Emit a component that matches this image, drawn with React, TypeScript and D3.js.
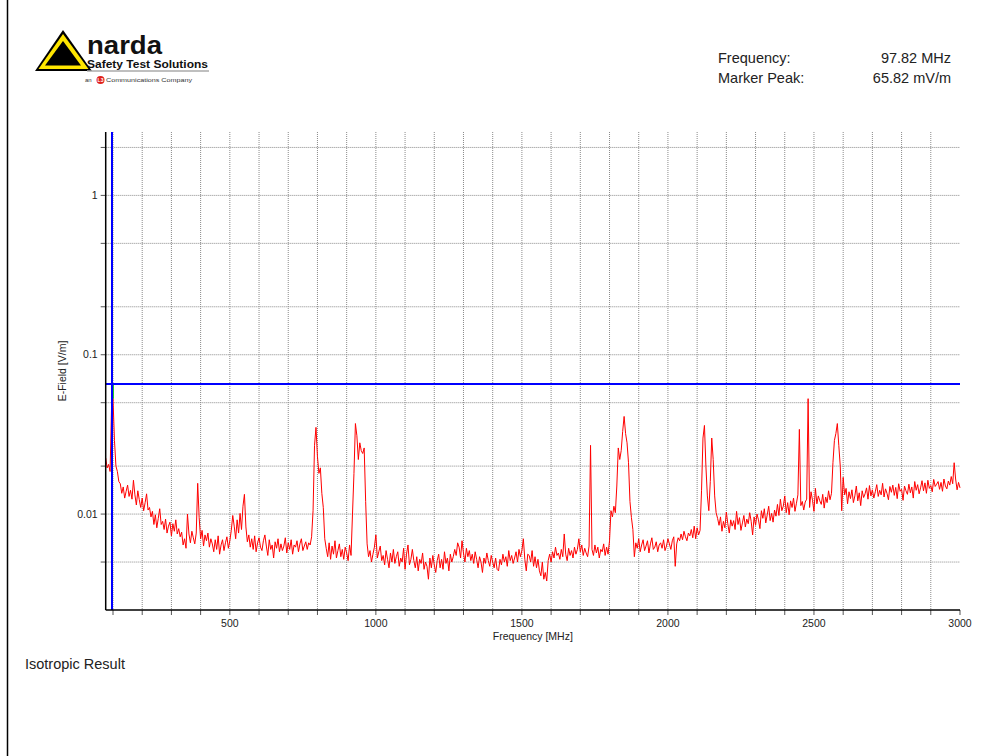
import React from 'react';
import * as d3 from 'd3';

// sweep grid of the analyser (MHz)
const SWEEP_START = 75;
const SWEEP_STEP = 5;

// isotropic E-field per sweep point, mV/m
const fieldMV = [
  22.5, 19.5, 20.5, 18.5, 47, 53, 29, 20, 18.5, 16,
  15.5, 13.5, 14.8, 12.6, 13.9, 15.2, 12.9, 14.1, 12.4, 16.3,
  13.2, 11.4, 14.0, 12.3, 11.0, 12.6, 10.5, 11.8, 13.4, 10.6,
  11.0, 9.6, 10.4, 8.6, 9.9, 8.2, 9.4, 10.8, 8.6, 9.0,
  8.0, 9.3, 7.6, 8.4, 8.9, 7.3, 8.7, 7.8, 9.2, 7.5,
  8.1, 7.2, 7.7, 6.4, 7.0, 6.1, 10.0, 7.5, 6.6, 7.8,
  7.1, 6.5, 7.6, 15.6, 9.5, 7.0, 7.9, 6.3, 7.4, 6.8,
  7.6, 6.2, 7.0, 6.5, 5.8, 6.9, 6.0, 7.3, 5.6, 6.4,
  6.9, 5.9, 6.6, 7.2, 6.1, 6.8, 7.9, 9.8, 8.4, 7.0,
  9.2, 7.6, 10.1, 8.0, 11.2, 13.3, 8.3, 6.7, 7.4, 6.2,
  7.0, 6.0, 7.3, 5.8, 6.6, 7.1, 6.2, 5.9, 6.8, 7.4,
  6.3, 5.5, 6.9, 6.0, 6.4, 5.3, 6.7, 6.1, 7.0, 5.8,
  6.5, 5.9, 6.3, 7.1, 5.7, 6.6, 6.0, 6.9, 5.6, 6.4,
  6.2, 6.8, 5.8, 6.5, 7.0, 5.9, 6.3, 6.7, 6.0, 6.6,
  6.4, 7.2, 10.5, 27, 35, 23, 18, 19.5, 13.5, 11,
  7.0, 6.1, 5.4, 6.6, 5.2, 6.3, 5.6, 6.8, 5.3, 5.9,
  6.5, 5.4, 6.0, 5.2, 6.2, 5.7, 5.1, 6.4, 5.5, 10,
  18, 37, 31, 22, 28, 25, 24, 26, 12, 6.5,
  5.4, 5.9, 5.0, 5.6, 6.2, 7.4, 5.3, 5.8, 6.3, 5.1,
  5.5, 4.8, 5.9, 5.2, 4.6, 5.7, 5.0, 6.0, 4.9, 5.4,
  5.8, 4.7, 5.3, 5.0, 6.1, 4.5, 5.6, 6.4, 4.8, 5.2,
  6.0, 5.1, 4.6, 5.4, 4.4, 5.2, 4.9, 5.7, 4.5, 5.0,
  4.7, 3.9, 5.3, 4.6, 5.5, 4.8, 4.3, 5.1, 5.6, 4.6,
  5.2, 4.5, 5.8, 4.9, 5.3, 4.4, 5.6, 5.0, 5.4, 6.0,
  5.5, 6.6, 6.2, 5.3, 6.8, 5.7, 5.0, 6.1, 5.4, 5.9,
  5.1, 5.6, 4.9, 5.8, 5.2, 4.6, 5.4, 5.0, 4.3, 5.3,
  4.9, 5.7, 5.1, 4.7, 5.5, 5.0, 4.6, 5.3, 4.5, 4.4,
  5.2, 4.8, 5.6, 5.0, 5.4, 4.7, 5.9, 5.1, 5.5, 4.9,
  5.3, 5.8, 5.0, 6.0, 5.4, 5.9, 7.0, 5.2, 4.4, 5.6,
  5.5, 5.0, 5.9, 4.7, 5.4, 4.6, 5.2, 4.4, 4.1, 5.0,
  3.9, 4.3, 3.8, 5.1, 5.6, 5.0, 5.8, 5.3, 6.2, 5.5,
  5.7, 5.2, 6.0, 5.4, 7.5, 5.6, 5.1, 6.1, 5.5, 5.9,
  5.3, 6.2, 5.6, 6.0, 7.0, 5.8, 6.4, 5.5, 6.1, 5.7,
  5.4, 6.3, 27, 6.0, 5.5, 6.4, 5.7, 6.2, 5.3, 6.0,
  5.8, 6.5, 5.5, 6.2, 5.6, 6.8, 10.5, 9.6, 11.2, 10.2,
  15, 26, 22, 25, 33, 41, 32, 28, 21, 12,
  9.5, 8.0, 5.4, 6.6, 6.1, 7.0, 5.8, 6.4, 6.9, 5.9,
  6.3, 6.8, 5.7, 6.5, 7.1, 6.0, 6.2, 6.7, 5.8, 6.4,
  6.6, 6.1, 6.9, 5.9, 6.3, 7.0, 6.5, 6.0, 6.8, 7.2,
  4.7, 6.5, 7.1, 6.8, 7.5, 6.9, 7.8, 7.2, 6.8, 7.6,
  7.3, 8.0, 7.1, 8.4, 7.0, 8.2, 7.4, 7.9, 14, 30,
  36, 20, 13, 10.5, 16, 30, 22, 13, 10.2, 9.4,
  8.5, 9.6, 7.8, 9.0, 8.2, 10.3, 8.7, 7.6, 9.2, 8.4,
  9.1, 8.0, 10.4, 8.6, 9.5, 7.9, 8.8, 9.8, 8.3, 9.3,
  8.7, 10.2, 9.0, 7.4, 9.6, 8.5, 10.0, 9.2, 8.1, 10.5,
  9.4, 10.8, 8.8, 9.9, 11.2, 9.1, 10.1, 8.9, 10.6, 9.7,
  11.5, 9.8, 12.4, 10.5, 11.2, 13.0, 10.2, 11.8, 9.9, 12.1,
  11.0, 12.6, 10.4, 11.7, 13.2, 34, 11.3, 12.0, 10.6, 11.9,
  12.4, 53, 11.0, 13.8, 12.2, 10.4, 14.5, 11.6, 13.0, 12.1,
  11.5, 13.3, 10.9, 12.8, 11.8, 14.0, 12.3, 13.5, 21, 29,
  32, 37, 27, 20, 10.5, 17, 13.2, 14.5, 11.6, 13.8,
  12.5, 14.2, 11.8, 13.0, 15.0, 12.1, 13.6, 11.3, 14.0, 12.7,
  13.4, 14.6, 12.4, 15.1, 13.0, 14.2, 12.6, 13.8, 15.3, 12.9,
  14.1, 13.2, 15.6, 12.8, 14.4, 13.5, 12.3, 14.9, 13.7, 15.2,
  13.1, 14.7, 12.5, 15.5, 13.9, 14.3, 12.2, 15.0, 14.0, 13.3,
  15.4, 13.6, 14.8, 12.6, 16.0, 14.1, 15.3, 13.4, 14.6, 16.2,
  14.0, 15.7, 13.5, 16.3, 14.5, 15.1, 13.8, 16.5, 14.9, 15.4,
  16.0, 14.3, 15.8, 13.9, 16.6, 15.0, 14.4, 16.1, 15.2, 17.2,
  15.5, 21, 16.6, 14.2, 15.8, 14.6,
];

const markerFreq = 97.82; // MHz
const markerPeak = 65.82; // mV/m
const markerTraceTop = 53; // mV/m, where the red trace stops under the marker

const xTickLabels = [500, 1000, 1500, 2000, 2500, 3000];
const yGridValues = [2, 1, 0.5, 0.2, 0.1, 0.05, 0.02, 0.01, 0.005];
const yTickLabels = [1, 0.1, 0.01];

const FONT = '"Liberation Sans", Arial, sans-serif';

const Logo = () => (
  <g>
    <polygon points="35,71 63,30 92,71" fill="#000" />
    <polygon points="38.5,69 63,34 88.5,69" fill="#ffe600" />
    <polygon points="45,65.5 63,41 81,65.5" fill="#000" />
    <text x={87} y={54} fontFamily={FONT} fontWeight="bold" fontSize={25} fill="#111"
      textLength={75} lengthAdjust="spacingAndGlyphs">narda</text>
    <text x={87} y={67.5} fontFamily={FONT} fontWeight="bold" fontSize={10.5} fill="#111"
      textLength={121} lengthAdjust="spacingAndGlyphs">Safety Test Solutions</text>
    <line x1={87} x2={209} y1={71} y2={71} stroke="#aaa" strokeWidth={1.5} />
    <text x={85} y={82} fontFamily={FONT} fontSize={6} fill="#333">an</text>
    <circle cx={100.5} cy={80} r={4} fill="#e0201b" />
    <text x={100.5} y={82} fontFamily={FONT} fontSize={5} fontWeight="bold" fill="#fff" textAnchor="middle">L3</text>
    <text x={106} y={82} fontFamily={FONT} fontSize={6} fill="#333"
      textLength={86} lengthAdjust="spacingAndGlyphs">Communications Company</text>
  </g>
);

export default function App() {
  const left = 105.7, right = 960, top = 132, bottom = 610;
  const x = d3.scaleLinear().domain([75, 3000]).range([left, right]);
  const y = d3.scaleLog().domain([0.0025, 2.5]).range([bottom, top]);

  const points = fieldMV.map((mv, i) => ({ f: SWEEP_START + i * SWEEP_STEP, v: mv / 1000 }));
  const line = d3.line<{ f: number; v: number }>().x(d => x(d.f)).y(d => y(d.v));

  const xGrid = d3.range(100, 3000, 100);
  const xTicks = d3.range(100, 3001, 100);
  // 2px marker lines sit on whole pixels so they render solid blue
  const mx = Math.round(x(markerFreq));
  const my = Math.round(y(markerPeak / 1000));

  return (
    <div style={{ position: 'absolute', left: 0, top: 0 }}>
      <svg width={1008} height={756} style={{ display: 'block', background: '#fff' }}>
        <line x1={7.5} x2={7.5} y1={0} y2={756} stroke="#000" strokeWidth={1.5} />
        <Logo />

        <g fontFamily={FONT} fontSize={14.5} fill="#222">
          <text x={718} y={63}>Frequency:</text>
          <text x={951} y={63} textAnchor="end">97.82 MHz</text>
          <text x={718} y={83}>Marker Peak:</text>
          <text x={951} y={83} textAnchor="end">65.82 mV/m</text>
        </g>

        {/* grid */}
        <g stroke="#8a8a8a" strokeWidth={1} strokeDasharray="1,1">
          {xGrid.map(f => (
            <line key={'vx' + f} x1={x(f)} x2={x(f)} y1={top} y2={bottom} />
          ))}
          {yGridValues.map(v => (
            <line key={'hy' + v} x1={left} x2={right} y1={y(v)} y2={y(v)} />
          ))}
        </g>

        {/* ticks */}
        <g stroke="#555" strokeWidth={1}>
          {yGridValues.map(v => (
            <line key={'ty' + v} x1={left - 5} x2={left} y1={y(v)} y2={y(v)} />
          ))}
          {xTicks.map(f => (
            <line key={'tx' + f} x1={x(f)} x2={x(f)} y1={bottom} y2={bottom + 5} />
          ))}
        </g>

        <g fontFamily={FONT} fontSize={10.5} fill="#222">
          {yTickLabels.map(v => (
            <text key={'ly' + v} x={left - 8} y={y(v) + 3.5} textAnchor="end">{v}</text>
          ))}
          {xTickLabels.map(f => (
            <text key={'lx' + f} x={x(f)} y={627} textAnchor="middle">{f}</text>
          ))}
          <text x={(left + right) / 2} y={640} textAnchor="middle">Frequency [MHz]</text>
          <text transform={`translate(66,371) rotate(-90)`} textAnchor="middle">E-Field [V/m]</text>
        </g>

        {/* trace */}
        <path d={line(points) ?? ''} fill="none" stroke="#ff0000" strokeWidth={1} />

        {/* marker */}
        <line x1={mx} x2={mx} y1={top} y2={bottom} stroke="#0000ff" strokeWidth={2} />
        <line x1={left} x2={right} y1={my} y2={my} stroke="#0000ff" strokeWidth={2} />
        <line x1={mx + 1.5} x2={mx + 1.5} y1={y(markerTraceTop / 1000)} y2={my + 1} stroke="#22cc22" strokeWidth={1} />

        {/* axes */}
        <line x1={left} x2={left} y1={top} y2={bottom} stroke="#000" strokeWidth={1.5} />
        <line x1={left} x2={right} y1={bottom} y2={bottom} stroke="#000" strokeWidth={1.5} />

        <text x={25} y={669} fontFamily={FONT} fontSize={14.5} fill="#222">Isotropic Result</text>
      </svg>
    </div>
  );
}
